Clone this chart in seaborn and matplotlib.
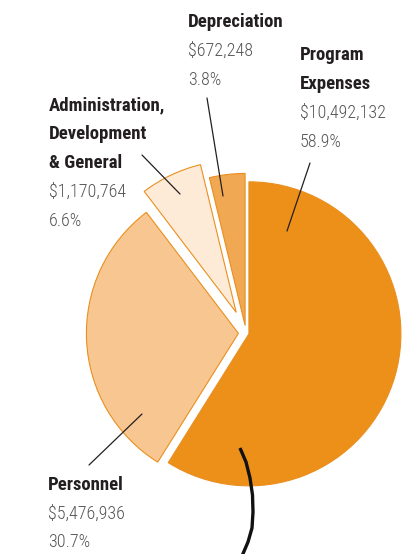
import numpy as np
import matplotlib
matplotlib.use("Agg")
import matplotlib.pyplot as plt
import seaborn as sns

sns.set_style("white")
plt.rcParams['font.family'] = ['Roboto Condensed', 'Roboto', 'DejaVu Sans']

# Data
labels = ['Program\nExpenses', 'Personnel', 'Administration,\nDevelopment\n& General', 'Depreciation']
amounts = ['$10,492,132', '$5,476,936', '$1,170,764', '$672,248']
values = [10492132, 5476936, 1170764, 672248]
percents = ['58.9%', '30.7%', '6.6%', '3.8%']
colors = ['#EC901A', '#F8C690', '#FDEBD8', '#F0A852']
explode = [0.02, 0.05, 0.15, 0.05]

W, H = 410, 554
CX, CY, R = 246, 333, 152

fig = plt.figure(figsize=(W / 100, H / 100), dpi=100)
ax = fig.add_axes([0, 0, 1, 1])

ax.pie(values, colors=colors, explode=explode, startangle=90, counterclock=False,
       radius=1, wedgeprops=dict(edgecolor='#EA8F1F', linewidth=0.8))
ax.set_xlim(-CX / R, (W - CX) / R)
ax.set_ylim(-(H - CY) / R, CY / R)
ax.set_aspect('auto')
ax.axis('off')


def px(x, y):
    return (x - CX) / R, (CY - y) / R


def label_block(x, y, name, amount, pct, step=29):
    n = name.count('\n') + 1
    for i, line in enumerate(name.split('\n')):
        ax.text(*px(x, y + i * step), line, fontsize=13.5, fontweight='bold',
                color='#231F20', va='baseline', ha='left')
    ax.text(*px(x, y + n * step), amount, fontsize=13, fontweight='light',
            color='#555557', va='baseline')
    ax.text(*px(x, y + (n + 1) * step), pct, fontsize=13, fontweight='light',
            color='#555557', va='baseline')


label_block(300, 60, labels[0], amounts[0], percents[0])
label_block(48, 490, labels[1], amounts[1], percents[1], step=28.5)
label_block(49, 110, labels[2], amounts[2], percents[2])
label_block(188, 27, labels[3], amounts[3], percents[3])

# leader lines
leaders = [((310, 163), (287, 231)),
           ((89, 465), (142, 414)),
           ((142, 155), (180, 194)),
           ((207, 98), (223, 196))]
for (x0, y0), (x1, y1) in leaders:
    a, b = px(x0, y0)
    c, d = px(x1, y1)
    ax.plot([a, c], [b, d], color='#231F20', lw=0.9)

# curved pointer at the bottom
curve_x = [240, 246, 250, 252.5, 253, 252, 248, 242]
curve_y = [448, 462, 478, 495, 512, 528, 542, 556]
pts = [px(x, y) for x, y in zip(curve_x, curve_y)]
ax.plot([p[0] for p in pts], [p[1] for p in pts], color='#111111', lw=2.4,
        solid_capstyle='butt')

fig.savefig('out.png', dpi=100)
